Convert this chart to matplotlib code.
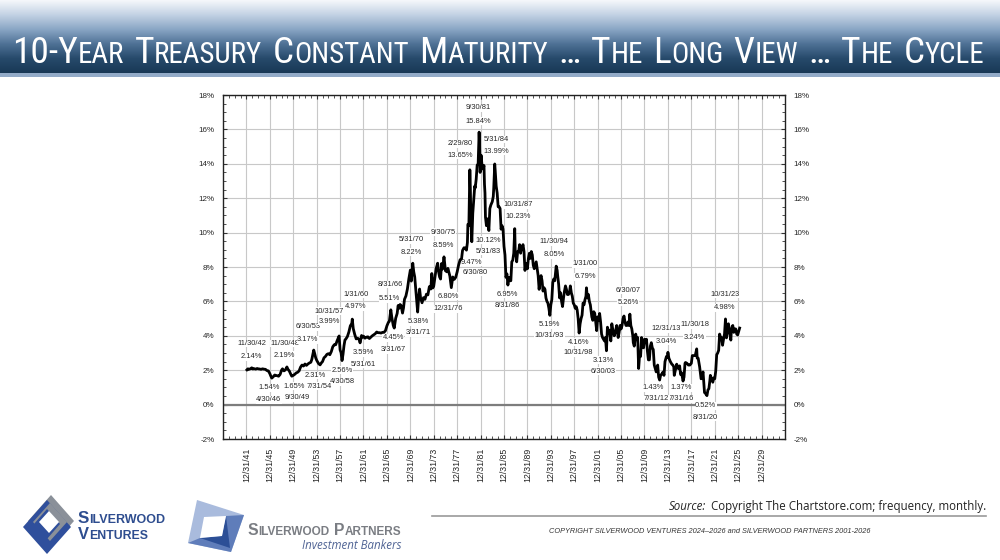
import numpy as np
import matplotlib
matplotlib.use("Agg")
import matplotlib.pyplot as plt
from matplotlib import font_manager
from matplotlib.patches import Polygon, Rectangle
from matplotlib.lines import Line2D
from matplotlib.colors import LinearSegmentedColormap

W, H = 1000, 560

# 10-year treasury, month-end readings (YYYY-MM, %)
months = [
    "1942-01", "1942-03", "1942-05", "1942-08", "1942-11",
    "1943-01", "1943-04", "1943-07", "1943-10", "1943-12",
    "1944-03", "1944-06", "1944-09", "1944-12",
    "1945-03", "1945-06", "1945-09", "1945-12",
    "1946-02", "1946-04", "1946-07", "1946-10", "1946-12",
    "1947-03", "1947-06", "1947-09", "1947-12",
    "1948-02", "1948-05", "1948-08", "1948-11",
    "1949-01", "1949-04", "1949-07", "1949-09", "1949-12",
    "1950-03", "1950-06", "1950-09", "1950-12",
    "1951-03", "1951-06", "1951-09", "1951-12",
    "1952-03", "1952-06", "1952-09", "1952-12",
    "1953-02", "1953-04", "1953-06", "1953-08", "1953-10", "1953-12",
    "1954-02", "1954-04", "1954-07", "1954-10", "1954-12",
    "1955-03", "1955-06", "1955-09", "1955-12",
    "1956-03", "1956-06", "1956-09", "1956-12",
    "1957-03", "1957-06", "1957-08", "1957-10", "1957-12",
    "1958-02", "1958-04", "1958-06", "1958-08", "1958-10", "1958-12",
    "1959-03", "1959-06", "1959-09", "1959-12",
    "1960-01", "1960-03", "1960-06", "1960-09", "1960-12",
    "1961-03", "1961-05", "1961-08", "1961-10", "1961-12",
    "1962-03", "1962-06", "1962-09", "1962-12",
    "1963-03", "1963-06", "1963-09", "1963-12",
    "1964-03", "1964-06", "1964-09", "1964-12",
    "1965-03", "1965-06", "1965-09", "1965-12",
    "1966-03", "1966-05", "1966-08", "1966-10", "1966-12",
    "1967-01", "1967-03", "1967-06", "1967-09", "1967-11",
    "1968-01", "1968-03", "1968-05", "1968-08", "1968-10", "1968-12",
    "1969-03", "1969-06", "1969-09", "1969-12",
    "1970-02", "1970-05", "1970-07", "1970-09", "1970-12",
    "1971-01", "1971-03", "1971-05", "1971-07", "1971-09", "1971-12",
    "1972-03", "1972-06", "1972-09", "1972-12",
    "1973-03", "1973-06", "1973-08", "1973-10", "1973-12",
    "1974-03", "1974-05", "1974-08", "1974-10", "1974-12",
    "1975-02", "1975-04", "1975-06", "1975-09", "1975-12",
    "1976-03", "1976-05", "1976-09", "1976-12",
    "1977-03", "1977-06", "1977-09", "1977-12",
    "1978-03", "1978-06", "1978-09", "1978-11",
    "1979-02", "1979-05", "1979-07", "1979-09", "1979-10", "1979-12",
    "1980-02", "1980-03", "1980-04", "1980-06", "1980-08", "1980-10", "1980-12",
    "1981-01", "1981-03", "1981-05", "1981-07", "1981-09", "1981-10", "1981-11", "1981-12",
    "1982-01", "1982-03", "1982-05", "1982-07", "1982-08", "1982-09", "1982-10", "1982-12",
    "1983-02", "1983-05", "1983-07", "1983-09", "1983-12",
    "1984-02", "1984-03", "1984-05", "1984-06", "1984-08", "1984-10", "1984-12",
    "1985-02", "1985-04", "1985-06", "1985-08", "1985-10", "1985-12",
    "1986-02", "1986-04", "1986-06", "1986-08", "1986-10", "1986-12",
    "1987-02", "1987-04", "1987-06", "1987-08", "1987-10", "1987-11",
    "1988-01", "1988-02", "1988-04", "1988-06", "1988-08", "1988-10", "1988-12",
    "1989-03", "1989-05", "1989-07", "1989-09", "1989-12",
    "1990-02", "1990-04", "1990-06", "1990-08", "1990-10", "1990-12",
    "1991-02", "1991-04", "1991-06", "1991-08", "1991-10", "1991-12",
    "1992-02", "1992-04", "1992-06", "1992-08", "1992-10", "1992-12",
    "1993-02", "1993-04", "1993-06", "1993-08", "1993-10", "1993-12",
    "1994-02", "1994-04", "1994-06", "1994-08", "1994-11",
    "1995-01", "1995-02", "1995-04", "1995-06", "1995-08", "1995-10", "1995-12",
    "1996-02", "1996-04", "1996-06", "1996-08", "1996-10", "1996-12",
    "1997-02", "1997-04", "1997-06", "1997-08", "1997-10", "1997-12",
    "1998-02", "1998-04", "1998-06", "1998-08", "1998-10", "1998-12",
    "1999-02", "1999-04", "1999-06", "1999-08", "1999-10", "1999-12",
    "2000-01", "2000-03", "2000-05", "2000-07", "2000-09", "2000-12",
    "2001-02", "2001-04", "2001-06", "2001-08", "2001-10", "2001-12",
    "2002-02", "2002-04", "2002-06", "2002-08", "2002-10", "2002-12",
    "2003-02", "2003-04", "2003-06", "2003-08", "2003-10", "2003-12",
    "2004-03", "2004-05", "2004-08", "2004-10", "2004-12",
    "2005-03", "2005-06", "2005-08", "2005-10", "2005-12",
    "2006-02", "2006-04", "2006-06", "2006-08", "2006-10", "2006-12",
    "2007-02", "2007-04", "2007-06", "2007-08", "2007-10", "2007-12",
    "2008-01", "2008-03", "2008-06", "2008-08", "2008-10", "2008-12",
    "2009-02", "2009-04", "2009-06", "2009-08", "2009-10", "2009-12",
    "2010-02", "2010-04", "2010-06", "2010-08", "2010-10", "2010-12",
    "2011-02", "2011-04", "2011-06", "2011-08", "2011-10", "2011-12",
    "2012-02", "2012-03", "2012-05", "2012-07", "2012-09", "2012-12",
    "2013-02", "2013-04", "2013-06", "2013-09", "2013-11", "2013-12",
    "2014-02", "2014-05", "2014-08", "2014-10", "2014-12",
    "2015-01", "2015-03", "2015-06", "2015-09", "2015-12",
    "2016-02", "2016-04", "2016-07", "2016-09", "2016-11", "2016-12",
    "2017-03", "2017-06", "2017-09", "2017-12",
    "2018-02", "2018-05", "2018-08", "2018-11", "2018-12",
    "2019-02", "2019-05", "2019-08", "2019-10", "2019-12",
    "2020-01", "2020-03", "2020-05", "2020-08", "2020-10", "2020-12",
    "2021-02", "2021-03", "2021-06", "2021-08", "2021-10", "2021-12",
    "2022-02", "2022-04", "2022-06", "2022-08", "2022-10", "2022-12",
    "2023-02", "2023-04", "2023-06", "2023-08", "2023-10", "2023-12",
    "2024-02", "2024-04", "2024-06", "2024-09", "2024-10", "2024-12",
    "2025-01", "2025-03", "2025-05", "2025-07", "2025-09", "2025-11", "2025-12",
    "2026-01", "2026-03",
]
yields = [
    2.02, 2.08, 2.05, 2.08, 2.14,
    2.07, 2.09, 2.06, 2.10, 2.08,
    2.07, 2.05, 2.08, 2.06,
    2.05, 1.98, 1.96, 1.80,
    1.66, 1.54, 1.62, 1.72, 1.70,
    1.68, 1.65, 1.75, 2.00,
    2.08, 1.96, 2.02, 2.19,
    2.06, 1.95, 1.76, 1.65, 1.70,
    1.76, 1.84, 1.88, 1.96,
    2.18, 2.30, 2.24, 2.36,
    2.28, 2.36, 2.42, 2.46,
    2.62, 2.88, 3.17, 2.96, 2.72, 2.58,
    2.48, 2.38, 2.31, 2.44, 2.50,
    2.72, 2.80, 2.92, 2.96,
    2.90, 3.08, 3.36, 3.48,
    3.48, 3.72, 3.86, 3.99, 3.18,
    3.02, 2.56, 2.92, 3.42, 3.76, 3.82,
    3.96, 4.22, 4.58, 4.72,
    4.97, 4.42, 4.08, 3.82, 3.86,
    3.78, 3.59, 4.02, 3.92, 3.98,
    3.86, 3.92, 3.94, 3.84,
    3.92, 4.00, 4.06, 4.12,
    4.22, 4.18, 4.18, 4.16,
    4.20, 4.20, 4.30, 4.58,
    4.78, 4.84, 5.51, 5.08, 4.78,
    4.60, 4.45, 5.02, 5.30, 5.76,
    5.60, 5.82, 5.76, 5.32, 5.62, 6.12,
    6.32, 6.72, 7.32, 7.82,
    7.18, 8.22, 7.72, 7.42, 6.40,
    6.02, 5.38, 6.22, 6.72, 6.20, 5.92,
    6.22, 6.12, 6.42, 6.38,
    6.86, 6.72, 7.62, 6.78, 6.90,
    7.52, 7.92, 8.22, 7.72, 7.42,
    7.30, 8.20, 7.88, 8.59, 7.78,
    7.72, 7.92, 7.48, 6.80,
    7.42, 7.28, 7.40, 7.72,
    8.12, 8.42, 8.48, 8.96,
    9.12, 9.10, 8.98, 9.42, 10.48, 10.40,
    13.65, 12.60, 10.90, 9.47, 11.12, 11.90, 12.70,
    12.60, 13.10, 13.92, 14.00, 15.84, 15.10, 13.50, 13.80,
    14.50, 13.90, 13.70, 13.90, 12.80, 12.30, 10.90, 10.40,
    10.80, 10.12, 11.40, 11.60, 11.80,
    12.10, 12.60, 13.99, 13.60, 12.70, 12.30, 11.50,
    11.50, 11.40, 10.20, 10.40, 10.20, 9.20,
    8.70, 7.40, 7.60, 6.95, 7.40, 7.20,
    7.20, 8.30, 8.40, 8.80, 10.23, 8.90,
    8.60, 8.30, 8.90, 8.90, 9.30, 8.80, 9.10,
    9.30, 8.90, 7.80, 8.20, 7.90,
    8.50, 8.80, 8.50, 8.90, 8.70, 8.10,
    7.90, 8.10, 8.30, 7.90, 7.50, 6.70,
    7.30, 7.50, 7.20, 6.60, 6.80, 6.70,
    6.20, 6.00, 5.90, 5.60, 5.19, 5.80,
    6.10, 7.10, 7.30, 7.20, 8.05,
    7.80, 7.50, 7.00, 6.20, 6.50, 6.00, 5.70,
    6.20, 6.60, 6.90, 6.70, 6.40, 6.40,
    6.50, 6.90, 6.50, 6.30, 5.90, 5.80,
    5.60, 5.70, 5.50, 5.00, 4.16, 4.70,
    5.00, 5.20, 5.90, 5.80, 6.10, 6.30,
    6.79, 6.20, 6.40, 6.00, 5.80, 5.10,
    4.90, 5.40, 5.30, 4.80, 4.30, 5.10,
    4.90, 5.30, 4.80, 4.10, 3.90, 3.80,
    3.70, 3.90, 3.13, 4.50, 4.30, 4.30,
    3.70, 4.70, 4.20, 4.00, 4.20,
    4.60, 3.90, 4.20, 4.60, 4.40,
    4.60, 5.00, 5.15, 4.80, 4.60, 4.60,
    4.80, 4.60, 5.26, 4.60, 4.40, 4.00,
    3.60, 3.40, 4.10, 3.80, 3.90, 2.10,
    2.90, 2.80, 3.90, 3.50, 3.30, 3.80,
    3.60, 3.80, 3.10, 2.60, 2.60, 3.40,
    3.60, 3.30, 3.20, 2.30, 2.10, 1.90,
    2.00, 2.30, 1.60, 1.43, 1.70, 1.80,
    1.90, 1.70, 2.50, 2.80, 2.75, 3.04,
    2.70, 2.50, 2.35, 2.30, 2.20,
    1.70, 1.95, 2.35, 2.10, 2.25,
    1.75, 1.85, 1.37, 1.60, 2.40, 2.45,
    2.40, 2.30, 2.30, 2.40,
    2.85, 2.85, 2.85, 3.24, 2.70,
    2.70, 2.20, 1.50, 1.70, 1.90,
    1.50, 0.70, 0.65, 0.52, 0.85, 0.93,
    1.40, 1.70, 1.45, 1.30, 1.55, 1.50,
    1.95, 2.90, 3.00, 3.15, 4.10, 3.90,
    3.90, 3.45, 3.80, 4.10, 4.98, 3.88,
    4.25, 4.70, 4.35, 3.75, 4.30, 4.55,
    4.60, 4.20, 4.40, 4.40, 4.10, 4.05, 4.15,
    4.25, 4.45,
]

# labels on the chart: (top line, bottom line, x in years, y top, y bottom)
notes = [
    ("11/30/42", "2.14%", 1942.85, 3.55, 2.77),
    ("11/30/48", "2.19%", 1948.5, 3.55, 2.87),
    ("6/30/53", "3.17%", 1952.5, 4.52, 3.78),
    ("10/31/57", "3.99%", 1956.1, 5.42, 4.84),
    ("1/31/60", "4.97%", 1960.7, 6.40, 5.68),
    ("8/31/66", "5.51%", 1966.5, 6.98, 6.15),
    ("5/31/70", "8.22%", 1970.15, 9.59, 8.85),
    ("9/30/75", "8.59%", 1975.6, 10.02, 9.26),
    ("2/29/80", "13.65%", 1978.45, 15.17, 14.48),
    ("9/30/81", "15.84%", 1981.55, 17.25, 16.47),
    ("5/31/84", "13.99%", 1984.7, 15.41, 14.73),
    ("10/31/87", "10.23%", 1988.4, 11.63, 10.95),
    ("11/30/94", "8.05%", 1994.55, 9.46, 8.72),
    ("1/31/00", "6.79%", 1999.9, 8.20, 7.42),
    ("6/30/07", "5.26%", 2007.2, 6.65, 5.95),
    ("12/31/13", "3.04%", 2013.75, 4.40, 3.68),
    ("11/30/18", "3.24%", 2018.55, 4.65, 3.88),
    ("10/31/23", "4.98%", 2023.7, 6.40, 5.62),
    ("1.54%", "4/30/46", 1945.8, 0.97, 0.29),
    ("2.56%", "4/30/58", 1958.35, 1.99, 1.32),
    ("3.59%", "5/31/61", 1961.9, 3.01, 2.33),
    ("4.45%", "3/31/67", 1967.05, 3.88, 3.20),
    ("5.38%", "3/31/71", 1971.4, 4.81, 4.17),
    ("6.80%", "12/31/76", 1976.45, 6.30, 5.58),
    ("10.12%", "5/31/83", 1983.25, 9.55, 8.90),
    ("6.95%", "8/31/86", 1986.5, 6.40, 5.76),
    ("5.19%", "10/31/93", 1993.75, 4.65, 4.01),
    ("4.16%", "10/31/98", 1998.75, 3.62, 3.01),
    ("3.13%", "6/30/03", 2003.0, 2.58, 1.94),
    ("1.37%", "7/31/16", 2016.3, 0.97, 0.33),
    ("0.52%", "8/31/20", 2020.45, -0.06, -0.74),
]
# single labels set apart
singles = [
    ("1.65%", 1950.2, 1.06), ("9/30/49", 1950.6, 0.39),
    ("2.31%", 1953.8, 1.69), ("7/31/54", 1954.5, 1.06),
    ("9.47%", 1980.5, 8.27), ("6/30/80", 1981.0, 7.69),
    ("1.43%", 2011.5, 0.97), ("7/31/12", 2012.05, 0.33),
]

names = {f.name for f in font_manager.fontManager.ttflist}
def pick(options):
    return next((n for n in options if n in names), "DejaVu Sans")
title_font = pick(["Liberation Sans Narrow", "Roboto Condensed", "Liberation Sans"])
arial = pick(["Liberation Sans", "Arimo", "DejaVu Sans"])
body = pick(["Open Sans", "Noto Sans", "Liberation Sans"])

fig = plt.figure(figsize=(10, 5.6), dpi=100)
renderer = fig.canvas.get_renderer()


def fx(px):
    return px / W


def fy(py):
    return 1 - py / H


def caps_text(parts, x0, base_y, big, small, width=None, **kw):
    # fake small caps: pieces of text set one after the other
    def draw(scale):
        x = x0
        arts = []
        for s, is_big in parts:
            if s == " ":
                x += big * scale * 0.28 * 100 / 72
                continue
            t = fig.text(fx(x), fy(base_y), s, fontsize=(big if is_big else small) * scale,
                         va="baseline", ha="left", **kw)
            x += t.get_window_extent(renderer).width
            arts.append(t)
        return x, arts
    end, arts = draw(1.0)
    if width:
        for a in arts:
            a.remove()
        end, arts = draw(width / (end - x0))
    return end


# banner
bn = fig.add_axes([0, fy(73), 1, 73 / H])
banner_cmap = LinearSegmentedColormap.from_list(
    "banner", ["#f6f8fb", "#c3d2e4", "#8aa6c5", "#4f7296", "#274a6b", "#183855"])
bn.imshow(np.linspace(0, 1, 256).reshape(-1, 1), aspect="auto", cmap=banner_cmap,
          extent=[0, 1, 1, 0])
bn.set_axis_off()
fig.add_artist(Rectangle((0, fy(77)), 1, 4 / H, transform=fig.transFigure,
                         facecolor="#93abc8", edgecolor="none"))

title_parts = [("10-Y", 1), ("EAR", 0), (" ", 1), ("T", 1), ("REASURY", 0), (" ", 1),
               ("C", 1), ("ONSTANT", 0), (" ", 1), ("M", 1), ("ATURITY", 0), (" ", 1),
               ("…", 1), (" ", 1), ("T", 1), ("HE", 0), (" ", 1), ("L", 1), ("ONG", 0), (" ", 1),
               ("V", 1), ("IEW", 0), (" ", 1), ("…", 1), (" ", 1), ("T", 1), ("HE", 0), (" ", 1),
               ("C", 1), ("YCLE", 0)]
caps_text(title_parts, 12, 63, 22, 17, width=973, color="white", family=title_font)

# chart
ax = fig.add_axes([fx(223), fy(439), (785 - 223) / W, (439 - 95) / H])
x_years = [int(m[:4]) + int(m[5:]) / 12 for m in months]
ax.plot(x_years, yields, color="black", lw=2.0, zorder=4)
ax.axhline(0, color="#7d7d7d", lw=1.6, zorder=1)
ax.set_xlim(1938, 2034)
ax.set_ylim(-2, 18)

tick_years = np.arange(1942, 2031, 4)
ax.set_xticks(tick_years)
ax.set_xticklabels([f"12/31/{(y - 1) % 100:02d}" for y in tick_years], rotation=90)
ax.set_xticks(np.arange(1938, 2035, 1), minor=True)
ax.set_yticks(np.arange(-2, 19, 2))
ax.set_yticklabels([f"{v}%" for v in np.arange(-2, 19, 2)])
ax.set_yticks(np.arange(-2, 18.01, 0.5), minor=True)
ax.set_axisbelow(True)
ax.grid(True, which="major", color="#c8c8c8", lw=0.8)
ax.tick_params(which="both", direction="in", top=True, right=True, labelright=True,
               labelcolor="#262626", color="#333333")
ax.tick_params(axis="y", labelsize=5.8)
ax.tick_params(axis="x", labelsize=6.3)
ax.tick_params(which="major", length=3, pad=6)
ax.tick_params(which="minor", length=2)
for t in ax.xaxis.get_major_ticks() + ax.yaxis.get_major_ticks():
    t.label1.set_family(arial)
    t.label2.set_family(arial)
for sp in ax.spines.values():
    sp.set_color("#222222")
    sp.set_linewidth(1.0)

box = dict(facecolor="white", edgecolor="none", pad=0.3)
for top, bottom, xn, yt, yb in notes:
    for txt, yy in ((top, yt), (bottom, yb)):
        ax.text(xn, yy, txt, ha="center", va="center", fontsize=5.4, color="#262626",
                family=arial, bbox=box, zorder=2)
for txt, xn, yy in singles:
    ax.text(xn, yy, txt, ha="center", va="center", fontsize=5.4, color="#262626",
            family=arial, bbox=box, zorder=2)

# footer
fig.add_artist(Line2D([fx(432), fx(986)], [fy(516), fy(516)], transform=fig.transFigure,
                      color="#9a9a9a", lw=1.2))
src = fig.text(fx(986), fy(510), "Copyright The Chartstore.com; frequency, monthly.",
               ha="right", va="baseline", fontsize=8.3, color="#222222", family=body)
src_left = src.get_window_extent(renderer).x0
fig.text((src_left - 5) / W, fy(510), "Source:", ha="right", va="baseline", fontsize=8.3,
         color="#222222", family=body, style="italic")
fig.text(fx(710), fy(533), "COPYRIGHT SILVERWOOD VENTURES 2024\u20132026 and SILVERWOOD PARTNERS 2001-2026",
         ha="center", va="baseline", fontsize=5.3, color="#333333", family=arial, style="italic")

# logo marks
def poly(pts, color, z=1):
    fig.add_artist(Polygon([(fx(a), fy(b)) for a, b in pts], closed=True,
                           transform=fig.transFigure, facecolor=color, edgecolor="none", zorder=z))

poly([(51, 495), (74, 521), (51, 547), (28, 521)], "#8a9099")
poly([(47, 500), (71, 527), (47, 554), (23, 527)], "#2f4f9c")
poly([(50, 503), (67, 522), (50, 541), (33, 522)], "#8a9099")
poly([(47, 509), (60, 524), (47, 539), (34, 524)], "#2f4f9c")
poly([(49, 511), (59, 522), (49, 533), (39, 522)], "white")

poly([(197, 500), (244, 515), (231, 552), (188, 543)], "#a9bbdd")
poly([(244, 515), (231, 552), (188, 543), (200, 538), (222, 536), (226, 516)], "#5f7dba")
poly([(226, 516), (222, 536), (200, 538), (230, 548)], "#2c4f96")
poly([(204, 517), (226, 516), (222, 536), (200, 538)], "white")

caps_text([("S", 1), ("ILVERWOOD", 0)], 78, 523, 11.5, 8.5, width=87,
          color="#2e4d8f", family=arial, weight="bold")
caps_text([("V", 1), ("ENTURES", 0)], 78, 539, 11.5, 8.5, width=69,
          color="#2e4d8f", family=arial, weight="bold")
caps_text([("S", 1), ("ILVERWOOD", 0), (" ", 1), ("P", 1), ("ARTNERS", 0)], 248, 535, 12, 9,
          width=154, color="#7a7d83", family=arial, weight="bold")
fig.text(fx(402), fy(549), "Investment Bankers", ha="right", va="baseline", fontsize=8.3,
         color="#4f6394", family=body, style="italic")

fig.savefig("out.png", dpi=100)
